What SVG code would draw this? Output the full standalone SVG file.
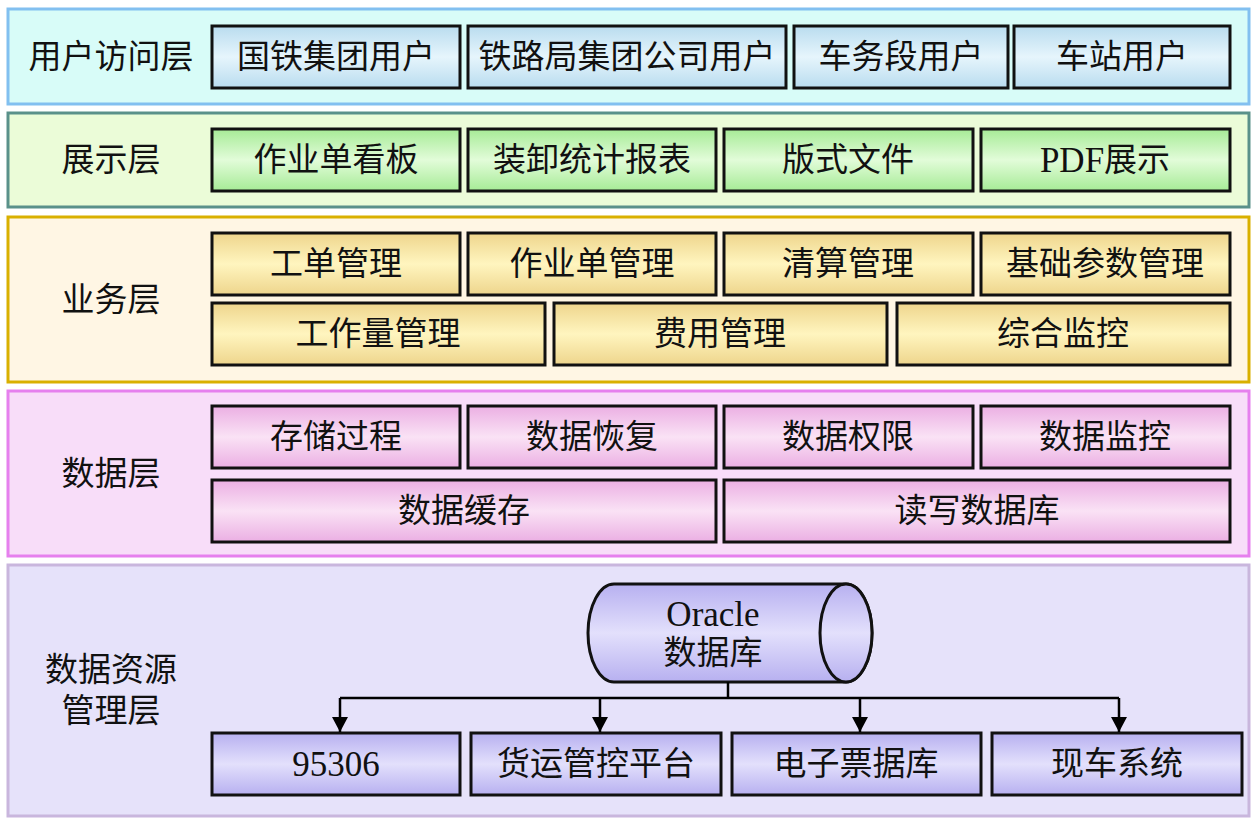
<svg xmlns="http://www.w3.org/2000/svg" width="1260" height="829" viewBox="0 0 1260 829">
<defs>
<linearGradient id="gBlue" x1="0" y1="0" x2="0" y2="1"><stop offset="0" stop-color="#b9dcef"/><stop offset="0.5" stop-color="#e6f5fc"/><stop offset="1" stop-color="#b9dcef"/></linearGradient>
<linearGradient id="gGreen" x1="0" y1="0" x2="0" y2="1"><stop offset="0" stop-color="#a6eb96"/><stop offset="0.5" stop-color="#e2fcd9"/><stop offset="1" stop-color="#a6eb96"/></linearGradient>
<linearGradient id="gGold" x1="0" y1="0" x2="0" y2="1"><stop offset="0" stop-color="#eed58c"/><stop offset="0.5" stop-color="#fff5bf"/><stop offset="1" stop-color="#eed58c"/></linearGradient>
<linearGradient id="gPink" x1="0" y1="0" x2="0" y2="1"><stop offset="0" stop-color="#ebafe3"/><stop offset="0.5" stop-color="#fae2f5"/><stop offset="1" stop-color="#ebafe3"/></linearGradient>
<linearGradient id="gPurple" x1="0" y1="0" x2="0" y2="1"><stop offset="0" stop-color="#b7b0f0"/><stop offset="0.5" stop-color="#e3e0fc"/><stop offset="1" stop-color="#b7b0f0"/></linearGradient>
<marker id="arr" markerWidth="15" markerHeight="16" refX="15" refY="8" orient="auto" markerUnits="userSpaceOnUse" viewBox="0 0 15 16">
<path d="M0 0 L15 8 L0 16 Z" fill="#000"/>
</marker>
</defs>
<style>
text{font-family:"Liberation Serif","Noto Sans CJK SC",serif;font-size:33px;fill:#111;text-anchor:middle;dominant-baseline:central}
.lat{font-size:35px}
.box{stroke:#111;stroke-width:3}
.lay{stroke-width:3}
.conn{fill:none;stroke:#000;stroke-width:2.5}
</style>
<rect width="1260" height="829" fill="#fff"/>

<g id="layer-user">
<rect class="lay" x="8" y="9" width="1241" height="95" fill="#d8fcf8" stroke="#82c0f0"/>
<text x="111" y="57">用户访问层</text>
<g id="n-guotie"><rect class="box" x="212" y="26" width="248" height="62" fill="url(#gBlue)"/><text x="336" y="57">国铁集团用户</text></g>
<g id="n-tieluju"><rect class="box" x="468" y="26" width="318" height="62" fill="url(#gBlue)"/><text x="627" y="57">铁路局集团公司用户</text></g>
<g id="n-chewu"><rect class="box" x="794" y="26" width="214" height="62" fill="url(#gBlue)"/><text x="901" y="57">车务段用户</text></g>
<g id="n-chezhan"><rect class="box" x="1014" y="26" width="216" height="62" fill="url(#gBlue)"/><text x="1122" y="57">车站用户</text></g>
</g>

<g id="layer-show">
<rect class="lay" x="8" y="113" width="1241" height="94" fill="#ebfcd8" stroke="#5a918a"/>
<text x="111" y="160">展示层</text>
<g id="n-kanban"><rect class="box" x="212" y="129" width="248" height="62" fill="url(#gGreen)"/><text x="336" y="160">作业单看板</text></g>
<g id="n-baobiao"><rect class="box" x="468" y="129" width="248" height="62" fill="url(#gGreen)"/><text x="592" y="160">装卸统计报表</text></g>
<g id="n-banshi"><rect class="box" x="724" y="129" width="249" height="62" fill="url(#gGreen)"/><text x="848" y="160">版式文件</text></g>
<g id="n-pdf"><rect class="box" x="981" y="129" width="249" height="62" fill="url(#gGreen)"/><text x="1105" y="160"><tspan class="lat">PDF</tspan>展示</text></g>
</g>

<g id="layer-biz">
<rect class="lay" x="8" y="217" width="1241" height="165" fill="#fff6e4" stroke="#d9b000"/>
<text x="111" y="300">业务层</text>
<g id="n-gongdan"><rect class="box" x="212" y="233" width="248" height="62" fill="url(#gGold)"/><text x="336" y="264">工单管理</text></g>
<g id="n-zuoyedan"><rect class="box" x="468" y="233" width="248" height="62" fill="url(#gGold)"/><text x="592" y="264">作业单管理</text></g>
<g id="n-qingsuan"><rect class="box" x="724" y="233" width="249" height="62" fill="url(#gGold)"/><text x="848" y="264">清算管理</text></g>
<g id="n-jichu"><rect class="box" x="981" y="233" width="249" height="62" fill="url(#gGold)"/><text x="1105" y="264">基础参数管理</text></g>
<g id="n-gongzuoliang"><rect class="box" x="212" y="303" width="333" height="62" fill="url(#gGold)"/><text x="378" y="334">工作量管理</text></g>
<g id="n-feiyong"><rect class="box" x="554" y="303" width="333" height="62" fill="url(#gGold)"/><text x="720" y="334">费用管理</text></g>
<g id="n-jiankong"><rect class="box" x="897" y="303" width="333" height="62" fill="url(#gGold)"/><text x="1063" y="334">综合监控</text></g>
</g>

<g id="layer-data">
<rect class="lay" x="8" y="391" width="1241" height="165" fill="#f8ddf9" stroke="#e680ee"/>
<text x="111" y="474">数据层</text>
<g id="n-cunchu"><rect class="box" x="212" y="406" width="248" height="62" fill="url(#gPink)"/><text x="336" y="437">存储过程</text></g>
<g id="n-huifu"><rect class="box" x="468" y="406" width="248" height="62" fill="url(#gPink)"/><text x="592" y="437">数据恢复</text></g>
<g id="n-quanxian"><rect class="box" x="724" y="406" width="249" height="62" fill="url(#gPink)"/><text x="848" y="437">数据权限</text></g>
<g id="n-shujujiankong"><rect class="box" x="981" y="406" width="249" height="62" fill="url(#gPink)"/><text x="1105" y="437">数据监控</text></g>
<g id="n-huancun"><rect class="box" x="212" y="480" width="504" height="62" fill="url(#gPink)"/><text x="464" y="511">数据缓存</text></g>
<g id="n-duxie"><rect class="box" x="724" y="480" width="506" height="62" fill="url(#gPink)"/><text x="977" y="511">读写数据库</text></g>
</g>

<g id="layer-res">
<rect class="lay" x="8" y="565" width="1241" height="251" fill="#e6e2fa" stroke="#c9b6dd"/>
<text x="111" y="670">数据资源</text>
<text x="111" y="711">管理层</text>
<g id="n-oracle">
<path class="box" d="M614 584 H846 A26 49 0 0 1 846 682 H614 A26 49 0 0 1 614 584 Z" fill="url(#gPurple)"/>
<ellipse class="box" cx="846" cy="633" rx="26" ry="49" fill="url(#gPurple)"/>
<text x="713" y="614" class="lat">Oracle</text>
<text x="713" y="653">数据库</text>
</g>
<g id="n-95306"><rect class="box" x="212" y="733" width="248" height="62" fill="url(#gPurple)"/><text x="336" y="764" class="lat">95306</text></g>
<g id="n-huoyun"><rect class="box" x="471" y="733" width="250" height="62" fill="url(#gPurple)"/><text x="596" y="764">货运管控平台</text></g>
<g id="n-dianzi"><rect class="box" x="732" y="733" width="249" height="62" fill="url(#gPurple)"/><text x="856" y="764">电子票据库</text></g>
<g id="n-xianche"><rect class="box" x="992" y="733" width="250" height="62" fill="url(#gPurple)"/><text x="1117" y="764">现车系统</text></g>
</g>

<g id="connectors">
<path class="conn" d="M728 682 V698"/>
<path class="conn" d="M340 698 H1119"/>
<path class="conn" d="M340 698 V732" marker-end="url(#arr)"/>
<path class="conn" d="M600 698 V732" marker-end="url(#arr)"/>
<path class="conn" d="M860 698 V732" marker-end="url(#arr)"/>
<path class="conn" d="M1119 698 V732" marker-end="url(#arr)"/>
</g>
</svg>
